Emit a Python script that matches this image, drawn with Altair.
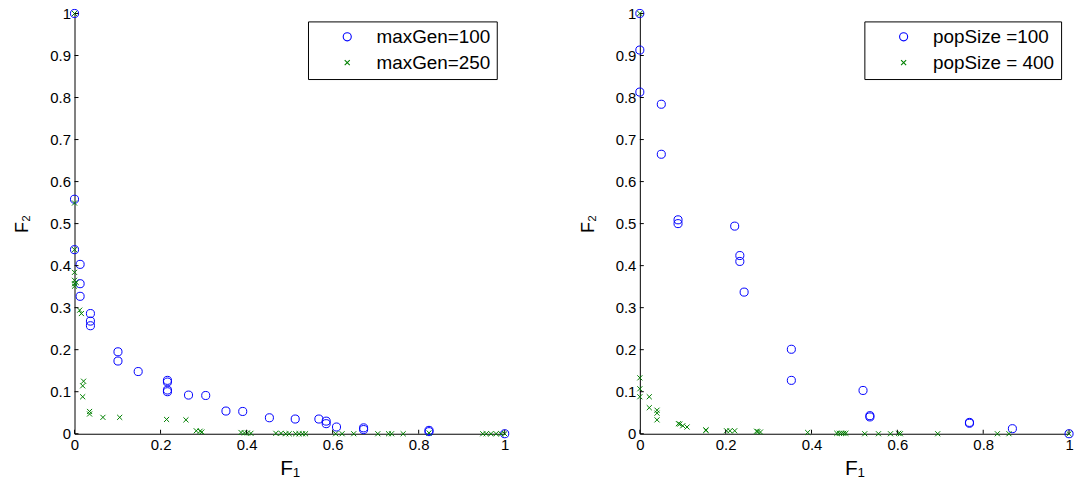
import altair as alt
import pandas as pd

# ---- data ----
X_TICKS = [0, 0.2, 0.4, 0.6, 0.8, 1]
Y_TICKS = [0, 0.1, 0.2, 0.3, 0.4, 0.5, 0.6, 0.7, 0.8, 0.9, 1]

left_names = ["maxGen=100", "maxGen=250"]
right_names = ["popSize =100", "popSize = 400"]

left_a_x = [0, 0, 0, 0.013, 0.013, 0.013, 0.037, 0.037, 0.037, 0.101, 0.101, 0.148,
            0.216, 0.216, 0.216, 0.216, 0.265, 0.305, 0.352, 0.391, 0.453, 0.513,
            0.568, 0.585, 0.585, 0.609, 0.672, 0.672, 0.824, 0.824, 1.0]
left_a_y = [1.0, 0.558, 0.438, 0.403, 0.357, 0.327, 0.286, 0.268, 0.257, 0.195, 0.173, 0.148,
            0.127, 0.123, 0.104, 0.100, 0.092, 0.091, 0.054, 0.053, 0.038, 0.035,
            0.035, 0.030, 0.024, 0.016, 0.014, 0.010, 0.008, 0.005, 0.0]

left_b_x = [0, 0, 0, 0, 0, 0, 0, 0.004, 0.012, 0.016, 0.021, 0.019, 0.019, 0.035, 0.035,
            0.066, 0.105, 0.214, 0.259, 0.283, 0.292, 0.296, 0.387, 0.395, 0.402, 0.41,
            0.468, 0.48, 0.491, 0.499, 0.514, 0.522, 0.53, 0.537, 0.607, 0.622, 0.649,
            0.705, 0.73, 0.737, 0.764, 0.824, 0.949, 0.957, 0.968, 0.98, 0.991, 1.0]
left_b_y = [1.0, 0.549, 0.438, 0.384, 0.365, 0.357, 0.351, 0.36, 0.294, 0.286, 0.125, 0.114,
            0.088, 0.053, 0.047, 0.039, 0.039, 0.034, 0.033, 0.007, 0.006, 0.004, 0.003,
            0.002, 0.002, 0.001, 0.001, 0.001, 0.0, 0.0, 0.0, 0.0, 0.0, 0.0, 0.0, 0.0,
            0.0, 0.0, 0.0, 0.0, 0.0, 0.002, 0.0, 0.0, 0.0, 0.0, 0.0, 0.0]

right_a_x = [0, 0, 0, 0.050, 0.050, 0.089, 0.089, 0.221, 0.233, 0.233, 0.243, 0.353, 0.353,
             0.520, 0.536, 0.536, 0.768, 0.768, 0.868, 1.0]
right_a_y = [1.0, 0.913, 0.813, 0.784, 0.665, 0.509, 0.500, 0.494, 0.424, 0.410, 0.337, 0.201,
             0.127, 0.103, 0.043, 0.040, 0.027, 0.025, 0.012, 0.0]

right_b_x = [0, 0, 0, 0, 0.022, 0.022, 0.040, 0.040, 0.040, 0.090, 0.093, 0.100, 0.110,
             0.154, 0.154, 0.202, 0.210, 0.221, 0.272, 0.275, 0.281, 0.391, 0.459, 0.465,
             0.470, 0.475, 0.480, 0.524, 0.556, 0.584, 0.603, 0.607, 0.694, 0.833, 0.860, 1.0]
right_b_y = [1.0, 0.133, 0.107, 0.088, 0.088, 0.062, 0.056, 0.049, 0.033, 0.024, 0.023, 0.019,
             0.016, 0.009, 0.008, 0.007, 0.007, 0.007, 0.006, 0.005, 0.004, 0.003, 0.001,
             0.001, 0.001, 0.001, 0.001, 0.0, 0.0, 0.0, 0.001, 0.0, 0.0, 0.0, 0.0, 0.0]

COLORS = ["#0000ff", "#008000"]
XPATH = "M-1,-1L1,1M1,-1L-1,1"
FONT = "Liberation Sans"
H = 423


def panel(ax, ay, bx, by, names, width):
    df = pd.DataFrame({
        "x": ax + bx,
        "y": ay + by,
        "s": [names[0]] * len(ax) + [names[1]] * len(bx),
    })
    xs = alt.Scale(domain=[0, 1], nice=False, zero=False)
    ys = alt.Scale(domain=[0, 1], nice=False, zero=False)
    xaxis = alt.Axis(values=X_TICKS, title="F₁", format="~g")
    yaxis = alt.Axis(values=Y_TICKS, title="F₂", format="~g")
    leg = alt.Legend(title=None)
    pts = alt.Chart(df).mark_point(filled=False, strokeWidth=1, opacity=1).encode(
        x=alt.X("x:Q", scale=xs, axis=xaxis),
        y=alt.Y("y:Q", scale=ys, axis=yaxis),
        color=alt.Color("s:N", scale=alt.Scale(domain=names, range=COLORS), legend=leg),
        shape=alt.Shape("s:N", scale=alt.Scale(domain=names, range=["circle", XPATH]), legend=leg),
        size=alt.Size("s:N", scale=alt.Scale(domain=names, range=[66, 26]), legend=None),
    )
    yt = alt.Chart(pd.DataFrame({"v": Y_TICKS})).mark_rule(color="black", strokeWidth=1).encode(
        y=alt.Y("v:Q", scale=ys, axis=yaxis), x=alt.value(0), x2=alt.value(4))
    xt = alt.Chart(pd.DataFrame({"v": X_TICKS})).mark_rule(color="black", strokeWidth=1).encode(
        x=alt.X("v:Q", scale=xs, axis=xaxis), y=alt.value(H), y2=alt.value(H - 4))
    return alt.layer(pts, yt, xt).properties(width=width, height=H)


left = panel(left_a_x, left_a_y, left_b_x, left_b_y, left_names, 433)
right = panel(right_a_x, right_a_y, right_b_x, right_b_y, right_names, 432)

chart = alt.hconcat(left, right, spacing=68).resolve_scale(
    color="independent", shape="independent", size="independent"
).configure_view(stroke=None).configure_axis(
    grid=False, ticks=False, domainColor="black", domainWidth=1,
    labelFont=FONT, labelFontSize=15, labelColor="black", labelPadding=4,
    titleFont=FONT, titleFontSize=21, titleFontWeight="normal", titleColor="black",
    labelFlush=False,
).configure_axisY(titlePadding=18, titleFontSize=18).configure_axisX(titlePadding=5).configure_legend(
    orient="top-right", offset=8, strokeColor="black", fillColor="white",
    padding=6, labelFont=FONT, labelFontSize=19, labelColor="black",
    symbolOffset=24, labelOffset=20, rowPadding=6, symbolStrokeWidth=1.1,
    symbolSize=50, cornerRadius=0,
).properties(
    background="white",
    padding={"left": 14, "top": 5, "right": 0, "bottom": 0},
)

chart.save("out.html", embed_options={"renderer": "svg", "actions": False})
